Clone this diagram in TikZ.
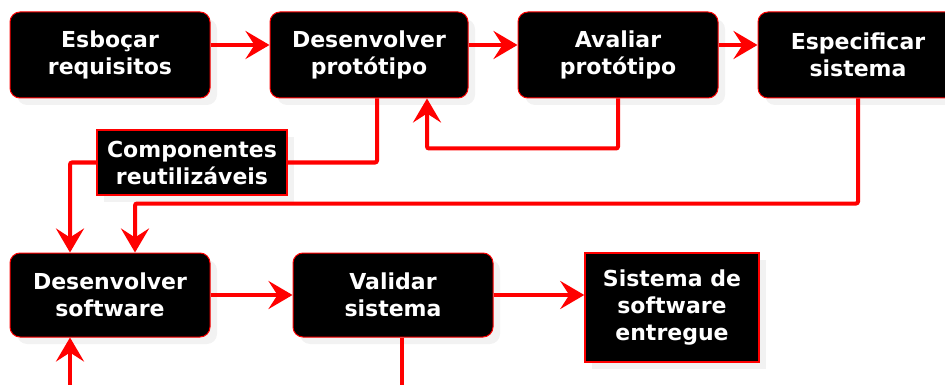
\documentclass[tikz,border=0pt]{standalone}
\usepackage{fontspec}
\setmainfont{DejaVu Sans}
\usetikzlibrary{arrows.meta,shadows}

\begin{document}
\begin{tikzpicture}[x=1pt,y=-1pt,
    box/.style={draw=red, line width=1pt, fill=black, rounded corners=10pt,
      text=white, font=\bfseries\fontsize{22}{27}\selectfont, align=center,
      minimum width=200pt, minimum height=86pt, inner sep=0pt,
      drop shadow={shadow xshift=7pt, shadow yshift=-7pt, fill=black!5, opacity=1}},
    tag/.style={box, rounded corners=0pt, line width=1.5pt},
    link/.style={draw=red, line width=4pt, rounded corners=2pt,
      -{Stealth[length=24pt, width=28pt, inset=9pt]}},
    wire/.style={draw=red, line width=4pt, rounded corners=2pt}]
  \useasboundingbox (0,0) rectangle (945,385);

  \node[box] (E) at (110,55) {Esboçar\\requisitos};
  \node[box, minimum width=198pt] (D) at (369,55) {Desenvolver\\protótipo};
  \node[box] (A) at (618,55) {Avaliar\\protótipo};
  \node[box] (P) at (858,55) {Especificar\\sistema};
  \node[tag, minimum width=190pt, minimum height=65pt] (C) at (192,162.5) {Componentes\\reutilizáveis};
  \node[box, minimum height=84pt] (S) at (110,295) {Desenvolver\\software};
  \node[box, minimum height=84pt] (V) at (393,295) {Validar\\sistema};
  \node[tag, minimum width=174pt, minimum height=109pt] (F) at (672,307.5) {Sistema de\\software\\entregue};
  \coordinate (in) at (70,392);
  \coordinate (out) at (402,392);

  \draw[link] ([yshift=10pt]E.east) -- ([yshift=10pt]D.west);
  \draw[link] ([yshift=10pt]D.east) -- ([yshift=10pt]A.west);
  \draw[link] ([yshift=10pt]A.east) -- ([yshift=10pt]P.west);
  \draw[link] (A.south) -- ++(0,50) -| ([xshift=58pt]D.south);
  \draw[wire] ([xshift=8pt]D.south) |- (C.east);
  \draw[link] (C.west) -| ([xshift=-40pt]S.north);
  \draw[link] (P.south) -- ++(0,105) -| ([xshift=25pt]S.north);
  \draw[link] (S.east) -- (V.west);
  \draw[link] (V.east) -- (V.east -| F.west);
  \draw[link] (in) -- ([xshift=-40pt]S.south);
  \draw[wire] ([xshift=9pt]V.south) -- (out);
\end{tikzpicture}
\end{document}
